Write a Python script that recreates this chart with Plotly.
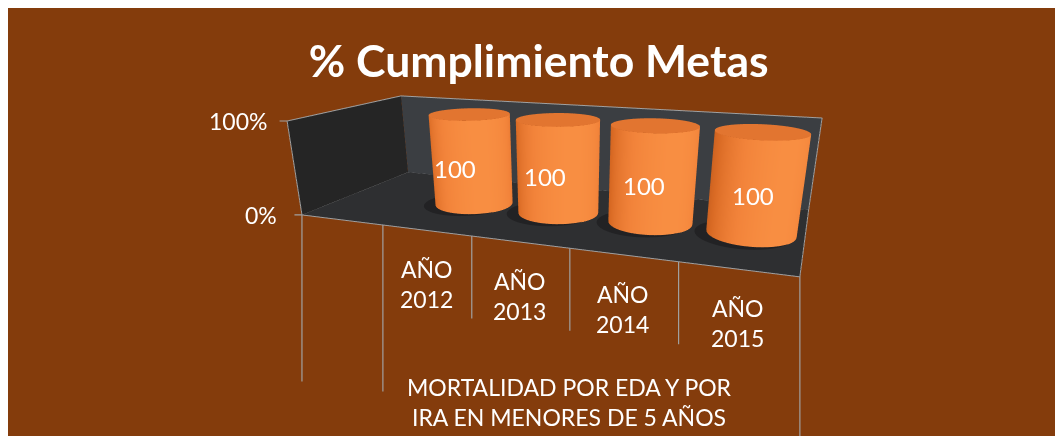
import textwrap
import numpy as np
import plotly.graph_objects as go

# ---------------- data ----------------
categories = ["", "AÑO 2012", "AÑO 2013", "AÑO 2014", "AÑO 2015"]
values = [None, 100, 100, 100, 100]
group_names = ["", "MORTALIDAD POR EDA Y POR IRA EN MENORES DE 5 AÑOS"]
group_starts = [0, 1]
value_ticks = [0, 100]
value_tick_labels = ["0%", "100%"]
title_text = "% Cumplimiento Metas"

# ---------------- style ----------------
# the figure is taller than the window on purpose: a taller 3D viewport gives a
# longer focal length, i.e. a milder perspective like the original chart
W_FIG, H_FIG = 1055, 560
BG = "#843C0C"
FLOOR = "#2E2F31"
BACK = "#3B3E42"
SIDE = "#252525"
EDGE = "#A0A0A0"
TOP = "#E27530"
SHADOW = "#222224"
FONT = "Lato"
CYL_SCALE = [[0.0, "#B4541A"], [0.45, "#D96A24"], [0.8, "#F2833A"], [1.0, "#F88E42"]]

n = len(categories)
ZMAX = max(value_ticks)
AX, AY, AZ = 1.0, 0.4088, 0.1946
RHO = 0.085
rx = RHO * n / AX
ry = RHO / AY
YC = 0.5

flat = dict(ambient=1, diffuse=0, specular=0, roughness=1, fresnel=0)
fig = go.Figure()
t = np.linspace(0, 2 * np.pi, 121)


def quad(xs, ys, zs, color):
    fig.add_trace(go.Mesh3d(x=xs, y=ys, z=zs, i=[0, 0], j=[1, 2], k=[2, 3],
                            color=color, flatshading=True, lighting=flat,
                            hoverinfo="skip", showscale=False))


def line(pts, color=EDGE, width=2):
    xs, ys, zs = zip(*pts)
    fig.add_trace(go.Scatter3d(x=xs, y=ys, z=zs, mode="lines",
                               line=dict(color=color, width=width),
                               hoverinfo="skip", showlegend=False))


def disk(xc, yc, sx, sy, z, color):
    rr = np.linspace(0, 1, 8)[:, None]
    fig.add_trace(go.Surface(x=xc + sx * rr * np.cos(t), y=yc + sy * rr * np.sin(t),
                             z=np.full((rr.size, t.size), float(z)),
                             surfacecolor=np.zeros((rr.size, t.size)),
                             colorscale=[[0, color], [1, color]], showscale=False,
                             lighting=flat, hoverinfo="skip"))


quad([0, n, n, 0], [0, 0, 1, 1], [0, 0, 0, 0], FLOOR)
quad([0, n, n, 0], [1, 1, 1, 1], [0, 0, ZMAX, ZMAX], BACK)
quad([0, 0, 0, 0], [0, 1, 1, 0], [0, 0, ZMAX, ZMAX], SIDE)

line([(0, 0, 0), (n, 0, 0), (n, 1, 0), (n, 1, ZMAX), (0, 1, ZMAX), (0, 0, ZMAX), (0, 0, 0)])
line([(0, 0, 0), (0, 1, 0), (n, 1, 0)], color="#8A8A8A", width=1.5)

# cylinders
shade = np.cos(t - np.deg2rad(-50))
for i, v in enumerate(values):
    if v is None:
        continue
    xc = i + 0.5
    disk(xc - 0.07, YC - 0.03, rx * 1.08, ry * 1.08, 0.4, SHADOW)
    X = np.vstack([xc + rx * np.cos(t)] * 2)
    Y = np.vstack([YC + ry * np.sin(t)] * 2)
    Z = np.vstack([np.zeros_like(t), np.full_like(t, v)])
    fig.add_trace(go.Surface(x=X, y=Y, z=Z, surfacecolor=np.vstack([shade, shade]),
                             cmin=-1, cmax=1, colorscale=CYL_SCALE, showscale=False,
                             lighting=flat, hoverinfo="skip"))
    disk(xc, YC, rx, ry, v, TOP)

# annotations (positioned in scene data coordinates)
lab_font = dict(family=FONT, size=23, color="white")
ann = []
for v, lab in zip(value_ticks, value_tick_labels):
    ann.append(dict(x=0, y=0, z=v, text=lab, showarrow=False, xanchor="right",
                    yanchor="middle", xshift=-23 + 5 * v / ZMAX, font=lab_font))
    ann.append(dict(x=0, y=0, z=v, text="", showarrow=True, ax=-9, ay=0, arrowhead=0,
                    arrowwidth=1.2, arrowcolor=EDGE, standoff=0))

bounds = group_starts + [n]
for b in range(n + 1):
    ann.append(dict(x=b, y=0, z=0, text="", showarrow=True, ax=0,
                    ay=168 if b in bounds else 84, arrowhead=0, arrowwidth=1.2,
                    arrowcolor=EDGE, standoff=0))

for i, c in enumerate(categories):
    if c:
        ann.append(dict(x=i + 0.5, y=0, z=0, text=c.replace(" ", "<br>"), showarrow=False,
                        xanchor="center", yanchor="middle", yshift=-54, font=lab_font))

for g, name in enumerate(group_names):
    if name:
        mid = (bounds[g] + bounds[g + 1]) / 2
        ann.append(dict(x=mid, y=0, z=0, text="<br>".join(textwrap.wrap(name, 24)),
                        showarrow=False, xanchor="center", yanchor="middle",
                        yshift=-154, font=lab_font))

for i, v in enumerate(values):
    if v is not None:
        ann.append(dict(x=i + 0.5, y=YC - ry, z=v / 2, text=f"{v:g}", showarrow=False,
                        xanchor="center", xshift=2,
                        font=dict(family=FONT, size=24, color="white")))

fig.update_layout(
    width=W_FIG, height=H_FIG, margin=dict(l=0, r=0, t=0, b=0),
    paper_bgcolor=BG, showlegend=False, dragmode=False,
    title=dict(text="<b>" + title_text + "</b>", font=dict(family=FONT, size=44.5, color="white"),
               x=0.503, xanchor="center", y=1 - 53 / H_FIG, yanchor="middle", yref="container"),
    scene=dict(
        domain=dict(x=[0.0559, 1], y=[0, 1]),
        xaxis=dict(visible=False, range=[0, n]),
        yaxis=dict(visible=False, range=[0, 1]),
        zaxis=dict(visible=False, range=[0, ZMAX]),
        aspectmode="manual", aspectratio=dict(x=AX, y=AY, z=AZ),
        camera=dict(eye=dict(x=0.4941, y=-1.2982, z=0.3193),
                    center=dict(x=0.0474, y=-0.0874, z=-0.2306),
                    up=dict(x=0, y=0, z=1), projection=dict(type="perspective")),
        bgcolor="rgba(0,0,0,0)",
        annotations=ann,
    ),
)

fig.write_html("out.html")
